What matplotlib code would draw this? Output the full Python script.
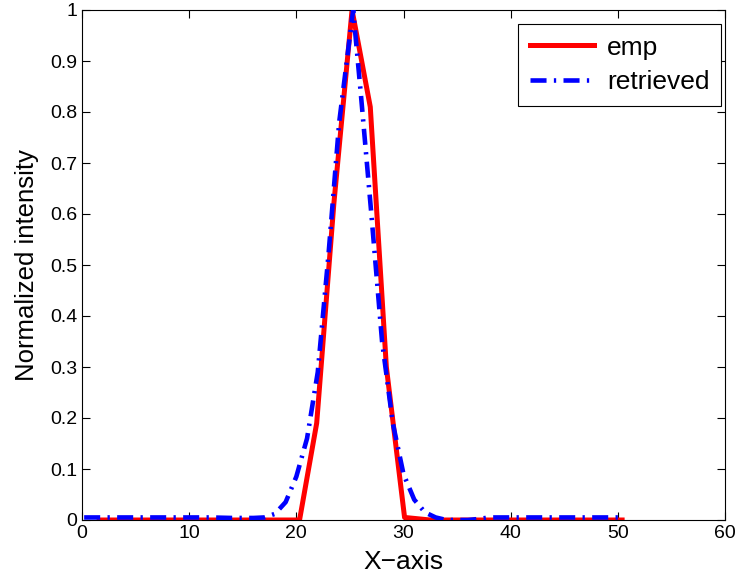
import matplotlib
matplotlib.use("Agg")
import matplotlib.pyplot as plt

plt.rcParams["font.family"] = ["Liberation Sans", "DejaVu Sans"]

# emp curve (red)
emp_x = [1.6, 20.3, 21.9, 23.5, 25.2, 26.9, 28.4, 30.1, 32.5, 50.4]
emp_y = [0.0, 0.0, 0.19, 0.62, 1.0, 0.81, 0.30, 0.005, 0.0, 0.0]

# retrieved curve (blue)
ret_x = [0.2, 2, 4, 6, 8, 10, 12, 14, 16, 17, 18, 19, 20, 21, 22, 23, 24,
         25.3, 26, 27, 28, 29, 30, 31, 32, 33, 34, 35, 36, 37, 38, 40, 42,
         44, 46, 48, 50.4]
ret_y = [0.005, 0.005, 0.005, 0.005, 0.005, 0.005, 0.005, 0.004, 0.004,
         0.005, 0.012, 0.035, 0.085, 0.16, 0.29, 0.52, 0.78,
         1.0, 0.84, 0.60, 0.35, 0.19, 0.09, 0.04, 0.015, 0.005, 0.0, 0.0,
         0.0, 0.002, 0.005, 0.005, 0.005, 0.005, 0.005, 0.005, 0.005]

x_ticks = [0, 10, 20, 30, 40, 50, 60]
y_ticks = [0, 0.1, 0.2, 0.3, 0.4, 0.5, 0.6, 0.7, 0.8, 0.9, 1]
y_labels = ["0", "0.1", "0.2", "0.3", "0.4", "0.5", "0.6", "0.7", "0.8", "0.9", "1"]

fig = plt.figure(figsize=(7.35, 5.81), dpi=100)
ax = fig.add_axes([82 / 735, 61 / 581, 643 / 735, 510 / 581])

ax.plot(emp_x, emp_y, color="#ff0000", lw=3.6, label="emp", zorder=2)
ax.plot(ret_x, ret_y, color="#0000ff", lw=3.3, dashes=(3.5, 1.6, 0.5, 1.6),
        label="retrieved", zorder=3)

ax.set_xlim(0, 60)
ax.set_ylim(0, 1)
ax.set_xticks(x_ticks)
ax.set_yticks(y_ticks)
ax.set_yticklabels(y_labels)
ax.tick_params(direction="in", top=True, right=True, labelsize=14, length=6, width=0.8)
for s in ax.spines.values():
    s.set_linewidth(0.8)

ax.set_xlabel("X\u2212axis", fontsize=19, labelpad=6)
ax.set_ylabel("Normalized intensity", fontsize=18.5, labelpad=8)

leg = ax.legend(loc="upper right", bbox_to_anchor=(0.994, 0.973), fontsize=19,
                fancybox=False, framealpha=1, edgecolor="black",
                handlelength=2.4, borderaxespad=0.0, handletextpad=0.5,
                borderpad=0.45, labelspacing=0.4)
leg.get_frame().set_linewidth(0.8)

fig.savefig("out.png", dpi=100)
